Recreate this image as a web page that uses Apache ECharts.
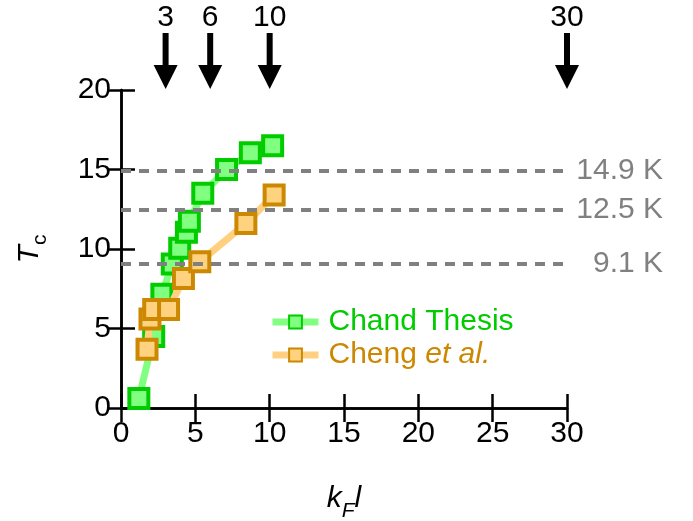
<!DOCTYPE html>
<html>
<head>
<meta charset="utf-8">
<script src="https://cdn.jsdelivr.net/npm/echarts@6/dist/echarts.min.js"></script>
<style>html,body{margin:0;padding:0;background:#fff;}#c{width:693px;height:521px;}</style>
</head>
<body>
<div id="c"></div>
<script>
const chandX = [1.2, 2.2, 2.75, 3.45, 3.95, 4.4, 4.6, 5.5, 7.1, 8.7, 10.2];
const chandY = [0.6, 4.5, 7.15, 9.05, 10.05, 11.05, 11.75, 13.5, 15.0, 16.05, 16.5];
const chengX = [1.75, 1.95, 2.2, 3.2, 4.2, 5.3, 8.4, 10.3];
const chengY = [3.7, 5.6, 6.2, 6.2, 8.15, 9.2, 11.6, 13.4];
const refLevels = [14.9, 12.5, 9.1];
const refLabels = ['14.9 K', '12.5 K', '9.1 K'];
const arrowX = [3, 6, 10, 30];
const arrowLabels = ['3', '6', '10', '30'];
const xTicks = [0, 5, 10, 15, 20, 25, 30];
const yTicks = [0, 5, 10, 15, 20];

const FONT = 'Liberation Sans, Arial, sans-serif';
const FS = 30;
const chart = echarts.init(document.getElementById('c'));
const axisLine = {show: true, lineStyle: {color: '#000', width: 2.5}};
const axisTick = {show: true, inside: true, length: 14, lineStyle: {color: '#000', width: 2.5}};

const option = {
  animation: false,
  textStyle: {fontFamily: FONT},
  grid: {left: 121, right: 126, top: 90, bottom: 113, containLabel: false, outerBoundsMode: 'none'},
  xAxis: [{
    type: 'value', min: 0, max: 30, interval: 5, position: 'bottom',
    axisLine, axisTick, splitLine: {show: false},
    axisLabel: {color: '#000', fontSize: FS, margin: 11, fontFamily: FONT},
    name: '{k|k}{f|F}{l|l}', nameLocation: 'middle', nameGap: 70,
    nameTextStyle: {rich: {
      k: {fontSize: FS, fontStyle: 'italic', color: '#000', fontFamily: FONT, verticalAlign: 'bottom', lineHeight: 36},
      f: {fontSize: 21, fontStyle: 'italic', color: '#000', fontFamily: FONT, verticalAlign: 'bottom', lineHeight: 36, padding: [0,0,-8,0]},
      l: {fontSize: FS, fontStyle: 'italic', color: '#000', fontFamily: FONT, verticalAlign: 'bottom', lineHeight: 36}
    }}
  }, {
    type: 'value', min: 0, max: 30, interval: 5, position: 'top',
    axisLine, axisTick, axisLabel: {show: false}, splitLine: {show: false}
  }],
  yAxis: [{
    type: 'value', min: 0, max: 20, interval: 5, position: 'left',
    axisLine, axisTick, splitLine: {show: false},
    axisLabel: {color: '#000', fontSize: FS, margin: 10, fontFamily: FONT},
    name: '{t|T}{s|c}', nameLocation: 'middle', nameGap: 76, nameRotate: 90,
    nameTextStyle: {rich: {
      t: {fontSize: FS, fontStyle: 'italic', color: '#000', fontFamily: FONT, verticalAlign: 'bottom', lineHeight: 36},
      s: {fontSize: 21, color: '#000', fontFamily: FONT, verticalAlign: 'bottom', lineHeight: 36, padding: [0,0,-6,0]}
    }}
  }, {
    type: 'value', min: 0, max: 20, interval: 5, position: 'right',
    axisLine, axisTick, axisLabel: {show: false}, splitLine: {show: false}
  }],
  legend: {
    orient: 'vertical', left: 264, top: 302, itemWidth: 46, itemHeight: 16, itemGap: 3,
    lineStyle: {width: 7},
    data: ['Chand Thesis', 'Cheng et al.'],
    formatter: function (name) {
      return name === 'Chand Thesis' ? '{g|Chand Thesis}' : '{o|Cheng }{oi|et al.}';
    },
    textStyle: {rich: {
      g: {color: '#00cc00', fontSize: FS, fontFamily: FONT, padding: [0, 0, 0, 5]},
      o: {color: '#cc8800', fontSize: FS, fontFamily: FONT, padding: [0, 0, 0, 5]},
      oi: {color: '#cc8800', fontSize: FS, fontStyle: 'italic', fontFamily: FONT}
    }}
  },
  series: [{
    name: 'Chand Thesis', type: 'line',
    data: chandX.map((x, i) => [x, chandY[i]]),
    symbol: 'rect', symbolSize: 19,
    lineStyle: {color: '#80ff80', width: 7},
    itemStyle: {color: '#80ff80', borderColor: '#00cc00', borderWidth: 4},
    z: 3
  }, {
    name: 'Cheng et al.', type: 'line',
    data: chengX.map((x, i) => [x, chengY[i]]),
    symbol: 'rect', symbolSize: 19,
    lineStyle: {color: '#ffd080', width: 7},
    itemStyle: {color: '#ffd280', borderColor: '#cc8800', borderWidth: 4},
    z: 4
  }, {
    name: 'refs', type: 'line', data: [], z: 6,
    markLine: {
      silent: true, symbol: ['none', 'none'],
      lineStyle: {color: '#808080', width: 4, type: [10, 8]},
      label: {show: true, position: 'end', distance: 8,
        formatter: p => '{a|' + refLabels[refLevels.indexOf(p.value)] + '}',
        rich: {a: {width: 88, align: 'right', color: '#808080', fontSize: FS, fontFamily: FONT}}},
      data: refLevels.map(v => ({yAxis: v}))
    }
  }, {
    name: 'arrows', type: 'custom', clip: false, z: 7,
    data: arrowX.map((x, i) => [x, 20, i]),
    renderItem: function (params, api) {
      const p = api.coord([api.value(0), api.value(1)]);
      const lab = arrowLabels[api.value(2)];
      return {type: 'group', children: [
        {type: 'rect', shape: {x: p[0] - 3, y: p[1] - 57, width: 6, height: 34}, style: {fill: '#000'}},
        {type: 'polygon', shape: {points: [[p[0] - 12, p[1] - 25], [p[0] + 12, p[1] - 25], [p[0], p[1] - 1]]}, style: {fill: '#000'}},
        {type: 'text', x: p[0], y: p[1] - 72, style: {text: lab, fontSize: FS, fontFamily: FONT, fill: '#000', align: 'center', verticalAlign: 'middle'}}
      ]};
    }
  }]
};
chart.setOption(option);
</script>
</body>
</html>
